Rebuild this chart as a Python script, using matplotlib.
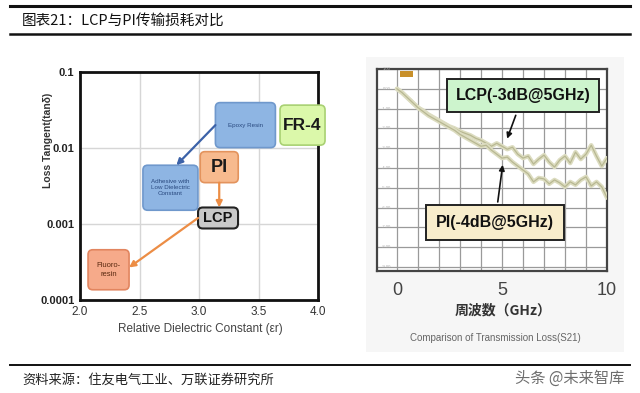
import matplotlib
matplotlib.use("Agg")
import matplotlib.pyplot as plt
import numpy as np
from matplotlib.patches import FancyBboxPatch, Rectangle

plt.rcParams['font.family'] = ['Liberation Sans', 'Noto Sans CJK SC', 'DejaVu Sans']

# ---- left panel: dielectric constant vs loss tangent ----
materials = ['Epoxy Resin', 'FR-4', 'PI', 'Adhesive with\nLow Dielectric\nConstant', 'LCP', 'Fluoro-\nresin']
material_dk = [3.39, 3.87, 3.17, 2.76, 3.16, 2.24]
material_tan = [0.020, 0.020, 0.0056, 0.0030, 0.0012, 0.00025]
dk_ticks = [2.0, 2.5, 3.0, 3.5, 4.0]
tan_ticks = [0.0001, 0.001, 0.01, 0.1]
tan_labels = ['0.0001', '0.001', '0.01', '0.1']

# ---- right panel: transmission loss S21 ----
freq = [0, 0.25, 0.5, 0.75, 1.0, 1.25, 1.5, 1.75, 2.0, 2.25, 2.5, 2.75, 3.0, 3.25,
        3.5, 3.75, 4.0, 4.25, 4.5, 4.75, 5.0, 5.25, 5.5, 5.75, 6.0, 6.25, 6.5, 6.75,
        7.0, 7.25, 7.5, 7.75, 8.0, 8.25, 8.5, 8.75, 9.0, 9.25, 9.5, 9.75, 10.0]
lcp_loss = [0.0, -0.2, -0.45, -0.7, -0.95, -1.1, -1.3, -1.45, -1.6, -1.75, -1.9, -2.0,
            -2.15, -2.25, -2.35, -2.5, -2.6, -2.75, -2.9, -2.75, -2.9, -3.05, -2.95,
            -3.3, -3.5, -3.4, -3.8, -3.55, -3.35, -3.7, -3.95, -3.6, -3.4, -3.75, -3.2,
            -3.55, -3.3, -2.85, -3.4, -3.9, -3.5]
pi_loss = [0.0, -0.2, -0.45, -0.7, -0.95, -1.15, -1.35, -1.5, -1.65, -1.8, -1.95, -2.1,
           -2.3, -2.45, -2.6, -2.75, -2.9, -2.85, -3.1, -3.3, -3.5, -3.45, -3.7, -3.9,
           -4.1, -4.3, -4.7, -4.5, -4.55, -4.8, -4.6, -4.75, -4.95, -4.7, -4.85, -4.6,
           -4.45, -4.9, -4.7, -4.95, -5.5]
db_ticks = [1, 0, -1, -2, -3, -4, -5, -6, -7, -8, -9]

fig = plt.figure(figsize=(6.4, 3.93), dpi=100)
W, H = 640.0, 393.0


def frac(x0, y0, x1, y1):
    return [x0 / W, 1 - y1 / H, (x1 - x0) / W, (y1 - y0) / H]


# header / footer rules and texts
fig.add_artist(plt.Line2D([10 / W, 630 / W], [1 - 6 / H] * 2, color='#111111', lw=2.2))
fig.add_artist(plt.Line2D([10 / W, 630 / W], [1 - 34 / H] * 2, color='#111111', lw=1.8))
fig.add_artist(plt.Line2D([10 / W, 630 / W], [1 - 365 / H] * 2, color='#111111', lw=1.4))
fig.text(22 / W, 1 - 21 / H, '图表21：LCP与PI传输损耗对比', fontsize=10.5,
         family=['Noto Sans CJK SC'], color='#111111', va='center')
fig.text(22 / W, 1 - 380 / H, '资料来源：住友电气工业、万联证券研究所', fontsize=9.5,
         family=['Noto Sans CJK SC'], color='#222222', va='center', style='italic')
fig.text(515 / W, 1 - 378 / H, '头条 @未来智库', fontsize=11, family=['Noto Sans CJK SC'],
         color='#555555', va='center', alpha=0.85)

# ---- left chart ----
ax = fig.add_axes(frac(80, 72, 318, 300))
ax.set_xlim(2.0, 4.0)
ax.set_ylim(-4, -1)
ax.set_xticks(dk_ticks)
ax.set_xticklabels([f'{v:.1f}' for v in dk_ticks], fontsize=8.5, color='#333333')
ax.set_yticks(np.log10(tan_ticks))
ax.set_yticklabels(tan_labels, fontsize=8, color='#222222', fontweight='bold')
ax.tick_params(length=0, pad=4)
ax.grid(True, color='#d6d6d6', lw=1)
ax.set_axisbelow(True)
for s in ax.spines.values():
    s.set_linewidth(2)
    s.set_color('#111111')

fig.text(48 / W, 1 - 140 / H, 'Loss Tangent(tanδ)', rotation=90, fontsize=7.5,
         fontweight='bold', color='#333333', ha='center', va='center')
fig.text(200 / W, 1 - 329 / H, 'Relative Dielectric Constant (εr)', fontsize=8.5,
         color='#444444', ha='center', va='center')

px_x = 2.0 / 238
px_y = 3.0 / 228
box_px = [(60, 45), (45, 40), (38, 31), (55, 45), (40, 21), (41, 40)]
box_face = ['#8eb5e3', '#dbf8aa', '#f7ba8e', '#8eb5e3', '#c9c9c9', '#f6aa8a']
box_edge = ['#6f98cc', '#a9d173', '#e3935d', '#6f98cc', '#222222', '#e2855f']
text_size = [4.5, 12.5, 13, 4.5, 10.5, 5.5]
text_weight = ['normal', 'bold', 'bold', 'normal', 'bold', 'normal']
text_color = ['#2a4a80', '#1a1a1a', '#1a1a1a', '#2a4a80', '#111111', '#5a2a10']

logtan = np.log10(material_tan)
boxes = []
for i, name in enumerate(materials):
    w = box_px[i][0] * px_x
    h = box_px[i][1] * px_y
    cx, cy = material_dk[i], logtan[i]
    p = FancyBboxPatch((cx - w / 2, cy - h / 2), w, h,
                       boxstyle='round,pad=0,rounding_size=0.04',
                       mutation_aspect=px_y / px_x, fc=box_face[i], ec=box_edge[i],
                       lw=1.2 if i != 4 else 1.5, clip_on=False, zorder=3)
    ax.add_patch(p)
    boxes.append((cx, cy, w, h))
    ax.text(cx, cy, name, ha='center', va='center', fontsize=text_size[i],
            fontweight=text_weight[i], color=text_color[i], zorder=4,
            linespacing=1.3)


def arrow(p0, p1, color):
    ax.annotate('', xy=p1, xytext=p0, zorder=5,
                arrowprops=dict(arrowstyle='-|>', color=color, lw=1.6,
                                mutation_scale=9, shrinkA=0, shrinkB=0))


ep, fr, pi, ad, lc, fl = boxes
arrow((ep[0] - ep[2] / 2, ep[1]), (ad[0] + 0.05, ad[1] + ad[3] / 2), '#3c62a8')
arrow((pi[0], pi[1] - pi[3] / 2), (pi[0], lc[1] + lc[3] / 2), '#ec8d45')
arrow((lc[0] - lc[2] / 2, lc[1]), (fl[0] + fl[2] / 2, fl[1] + 0.03), '#ec8d45')

# ---- right chart ----
fig.add_artist(Rectangle((366 / W, 1 - 352 / H), 258 / W, 295 / H,
                         transform=fig.transFigure, fc='#f6f6f6', ec='none', zorder=-5))
bx = fig.add_axes(frac(377, 69, 607, 271))
bx.set_xlim(-0.95, 10)
bx.set_ylim(-9.2, 1.0)
bx.set_xticks([0, 5, 10])
bx.set_xticks(range(0, 11), minor=True)
bx.set_yticks(db_ticks)
bx.set_yticklabels([])
bx.tick_params(which='both', length=0)
bx.tick_params(axis='x', labelsize=13, colors='#444444', pad=8)
bx.grid(True, which='both', color='#9a9a9a', lw=0.9)
bx.set_axisbelow(True)
for s in bx.spines.values():
    s.set_linewidth(1.6)
    s.set_color('#444444')
for v in db_ticks:
    bx.text(-0.5, v, f'{v:.2f}', fontsize=3, color='#aaaaaa', ha='center', va='center')
bx.add_patch(Rectangle((0.15, 0.62), 0.6, 0.28, fc='#c8902a', ec='none'))

for series in (lcp_loss, pi_loss):
    bx.plot(freq, series, color='#dcdcc0', lw=3.2, zorder=3, solid_capstyle='round')
    bx.plot(freq, series, color='#b8b892', lw=0.9, zorder=3)

bx.annotate('LCP(-3dB@5GHz)', xy=(5.2, -2.65), xytext=(6.0, -0.35),
            fontsize=11.5, fontweight='bold', color='#111111', ha='center', va='center',
            bbox=dict(boxstyle='square,pad=0.55', fc='#cdf4cd', ec='#222222', lw=1.4),
            arrowprops=dict(arrowstyle='-|>', color='#111111', lw=1.2, mutation_scale=8),
            zorder=6)
bx.annotate('PI(-4dB@5GHz)', xy=(5.05, -3.7), xytext=(4.67, -6.75),
            fontsize=11.5, fontweight='bold', color='#111111', ha='center', va='center',
            bbox=dict(boxstyle='square,pad=0.6', fc='#f8edcc', ec='#222222', lw=1.4),
            arrowprops=dict(arrowstyle='-|>', color='#111111', lw=1.2, mutation_scale=8),
            zorder=6)

fig.text(503 / W, 1 - 311 / H, '周波数（GHz）', fontsize=10, fontweight='bold',
         family=['Noto Sans CJK JP'], color='#333333', ha='center', va='center')
fig.text(495 / W, 1 - 338 / H, 'Comparison of Transmission Loss(S21)', fontsize=7,
         color='#666666', ha='center', va='center')

fig.savefig('out.png', dpi=100)
